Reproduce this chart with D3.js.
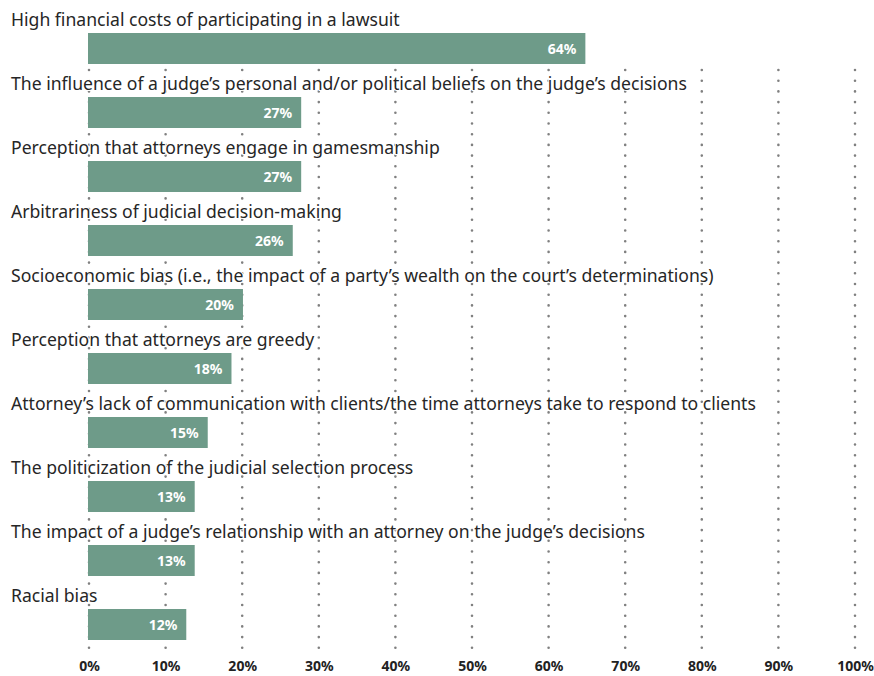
<!DOCTYPE html>
<html>
<head>
<meta charset="utf-8">
<script src="https://cdn.jsdelivr.net/npm/d3@7"></script>
<style>
  body { margin: 0; background: #fff; }
  svg { display: block; }
</style>
</head>
<body>
<div id="chart"></div>
<script>
// categories, top to bottom
const categories = [
  "High financial costs of participating in a lawsuit",
  "The influence of a judge\u2019s personal and/or political beliefs on the judge\u2019s decisions",
  "Perception that attorneys engage in gamesmanship",
  "Arbitrariness of judicial decision-making",
  "Socioeconomic bias (i.e., the impact of a party\u2019s wealth on the court\u2019s determinations)",
  "Perception that attorneys are greedy",
  "Attorney\u2019s lack of communication with clients/the time attorneys take to respond to clients",
  "The politicization of the judicial selection process",
  "The impact of a judge\u2019s relationship with an attorney on the judge\u2019s decisions",
  "Racial bias"
];
// bar lengths (percent)
const values = [64.8, 27.7, 27.7, 26.6, 20.1, 18.6, 15.5, 13.8, 13.8, 12.7];
// labels printed on the bars
const valueLabels = ["64%", "27%", "27%", "26%", "20%", "18%", "15%", "13%", "13%", "12%"];
const ticks = [0, 10, 20, 30, 40, 50, 60, 70, 80, 90, 100];

const width = 874, height = 676;
const barColor = "#6e9b89";

const svg = d3.select("#chart").append("svg")
    .attr("width", width)
    .attr("height", height);

const x = d3.scaleLinear().domain([0, 100]).range([89, 855]);
const y = d3.scaleBand().domain(categories).range([0, 640]);

// dotted gridlines
svg.append("g")
    .selectAll("line")
    .data(ticks)
    .enter()
    .append("line")
    .attr("x1", d => x(d))
    .attr("x2", d => x(d))
    .attr("y1", 70)
    .attr("y2", 656)
    .attr("stroke", "#808080")
    .attr("stroke-width", 2.6)
    .attr("stroke-linecap", "round")
    .attr("stroke-dasharray", "0 10.7");

const rows = svg.append("g")
    .selectAll("g")
    .data(categories)
    .enter()
    .append("g");

rows.append("text")
    .attr("x", 11)
    .attr("y", d => y(d) + 26)
    .attr("font-family", "'Noto Sans', sans-serif")
    .attr("font-size", 17.6)
    .attr("fill", "#262626")
    .attr("stroke", "#fff")
    .attr("stroke-width", 2)
    .attr("paint-order", "stroke")
    .text(d => d);

rows.append("rect")
    .attr("x", x(0) - 1)
    .attr("y", d => y(d) + 33)
    .attr("width", (d, i) => x(values[i]) - x(0) + 1)
    .attr("height", 31)
    .attr("fill", barColor);

rows.append("text")
    .attr("x", (d, i) => x(values[i]) - 9)
    .attr("y", d => y(d) + 54)
    .attr("text-anchor", "end")
    .attr("font-family", "'Noto Sans', sans-serif")
    .attr("font-weight", "bold")
    .attr("font-size", 14)
    .attr("fill", "#fff")
    .text((d, i) => valueLabels[i]);

// x axis labels
const axis = d3.axisBottom(x)
    .tickValues(ticks)
    .tickSize(0)
    .tickFormat(d => d + "%");

const gx = svg.append("g")
    .attr("transform", "translate(0,660)")
    .call(axis);
gx.select(".domain").remove();
gx.selectAll("text")
    .attr("font-family", "'Noto Sans', sans-serif")
    .attr("font-weight", "bold")
    .attr("font-size", 14)
    .attr("fill", "#222")
    .attr("dy", "0.71em")
    .attr("y", 1);
</script>
</body>
</html>
